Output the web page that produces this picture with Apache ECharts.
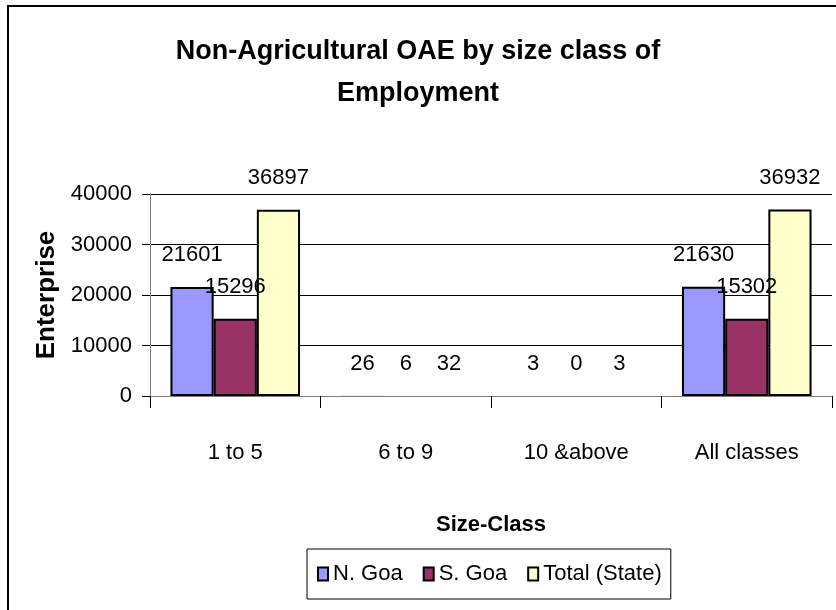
<!DOCTYPE html>
<html>
<head>
<meta charset="utf-8">
<script src="https://cdn.jsdelivr.net/npm/echarts@6/dist/echarts.min.js"></script>
<style>
html,body{margin:0;padding:0;background:#fff;}
#chart{width:836px;height:610px;}
</style>
</head>
<body>
<div id="chart"></div>
<script>
var categories = ['1 to 5', '6 to 9', '10 &above', 'All classes'];
var northGoa = [21601, 26, 3, 21630];
var southGoa = [15296, 6, 0, 15302];
var totalState = [36897, 32, 3, 36932];
var seriesNames = ['N. Goa', 'S. Goa', 'Total (State)'];
var yTicks = [0, 10000, 20000, 30000, 40000];

var FONT = '"Liberation Sans", Arial, sans-serif';
var chart = echarts.init(document.getElementById('chart'), null, {renderer: 'canvas'});

function barSeries(name, data, color) {
  return {
    name: name,
    type: 'bar',
    // tiny bars (a few units on a 40000 scale) have no visible outline in the original
    data: data.map(function (v) {
      return v < 200 ? {value: v, itemStyle: {borderWidth: 0}} : v;
    }),
    barGap: '0%',
    barCategoryGap: '24%',
    itemStyle: {color: color, borderColor: '#000', borderWidth: 2},
    label: {
      show: true,
      position: 'top',
      distance: 21,
      color: '#000',
      fontFamily: FONT,
      fontSize: 22
    }
  };
}

chart.setOption({
  animation: false,
  backgroundColor: '#fff',
  title: {
    text: 'Non-Agricultural OAE by size class of\nEmployment',
    left: 'center',
    top: 31,
    padding: 0,
    textStyle: {fontFamily: FONT, fontSize: 27, fontWeight: 'bold', color: '#000', lineHeight: 42}
  },
  legend: {
    data: seriesNames,
    left: 307,
    top: 549,
    orient: 'horizontal',
    itemWidth: 10,
    itemHeight: 13,
    itemGap: 20,
    icon: 'rect',
    padding: [14, 9, 14, 10],
    borderColor: '#000',
    borderWidth: 1,
    textStyle: {fontFamily: FONT, fontSize: 22, color: '#000'}
  },
  grid: {left: 150, right: 4, top: 194, bottom: 214, containLabel: false},
  xAxis: {
    type: 'category',
    data: categories,
    name: 'Size-Class',
    nameLocation: 'middle',
    nameGap: 118,
    nameTextStyle: {fontFamily: FONT, fontSize: 22, fontWeight: 'bold', color: '#000'},
    axisLine: {lineStyle: {color: '#808080', width: 1}},
    axisTick: {show: true, length: 12, lineStyle: {color: '#000'}},
    axisLabel: {fontFamily: FONT, fontSize: 22, color: '#000', margin: 46},
    splitLine: {show: false}
  },
  yAxis: {
    type: 'value',
    min: yTicks[0],
    max: yTicks[yTicks.length - 1],
    interval: 10000,
    name: 'Enterprise',
    nameLocation: 'middle',
    nameRotate: 90,
    nameGap: 73,
    nameTextStyle: {fontFamily: FONT, fontSize: 26, fontWeight: 'bold', color: '#000'},
    axisLine: {show: true, lineStyle: {color: '#808080', width: 1}},
    axisTick: {show: true, length: 8, lineStyle: {color: '#000'}},
    axisLabel: {
      fontFamily: FONT, fontSize: 22, color: '#000', margin: 18,
      formatter: function (v) { return String(v); }
    },
    splitLine: {show: true, lineStyle: {color: '#000', width: 1}}
  },
  graphic: [{
    type: 'rect',
    shape: {x: 8, y: 6, width: 900, height: 700},
    style: {fill: 'none', stroke: '#000', lineWidth: 2},
    silent: true,
    z: 100
  }],
  series: [
    barSeries(seriesNames[0], northGoa, '#9999FF'),
    barSeries(seriesNames[1], southGoa, '#993366'),
    barSeries(seriesNames[2], totalState, '#FFFFCC')
  ]
});
</script>
</body>
</html>
